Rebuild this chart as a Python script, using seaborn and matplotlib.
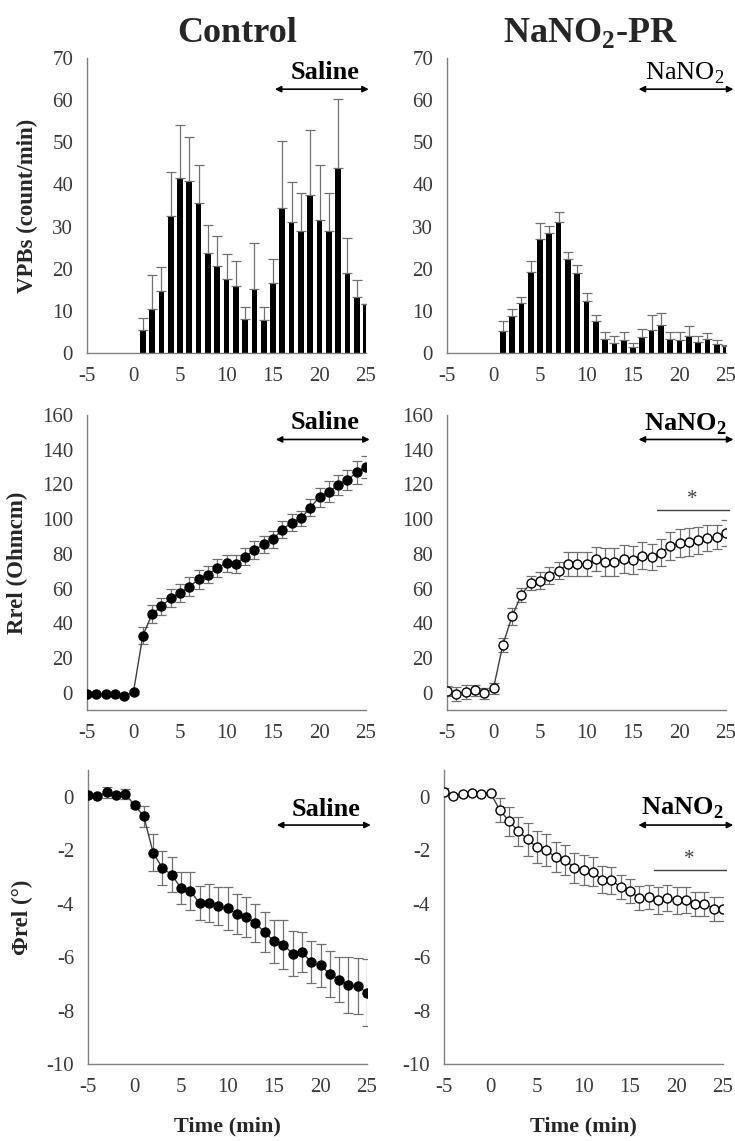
import numpy as np
import matplotlib
matplotlib.use("Agg")
import matplotlib.pyplot as plt
import seaborn as sns

# ----------------------------- datos -----------------------------
t_barras = list(range(1, 26))
t_lineas = list(range(-5, 26))

vpb_control = [5.5, 10.5, 14.8, 32.5, 41.5, 40.8, 35.5, 23.8, 20.7, 17.6, 15.9, 8.0, 15.1,
               7.8, 16.5, 34.5, 31.0, 29.0, 37.5, 31.5, 29.0, 43.8, 19.0, 13.3, 11.6]
vpb_control_err = [2.9, 8.0, 5.7, 10.5, 12.5, 10.5, 9.2, 6.5, 7.1, 5.8, 5.9, 3.0, 10.9,
                   3.2, 5.9, 15.7, 9.6, 9.0, 15.5, 13.1, 9.0, 16.5, 8.3, 4.0, 0.0]
vpb_nano = [5.3, 8.7, 11.9, 19.3, 27.0, 28.4, 31.0, 22.4, 19.1, 12.4, 7.6, 3.3, 2.4,
            3.2, 1.5, 3.9, 5.4, 6.6, 3.4, 3.1, 4.1, 2.7, 3.4, 2.2, 1.6]
vpb_nano_err = [2.3, 1.8, 1.4, 2.5, 3.8, 1.7, 2.5, 1.5, 1.9, 1.8, 1.3, 1.6, 1.7,
                1.7, 0.9, 1.9, 3.6, 2.9, 1.7, 1.8, 2.2, 1.4, 1.3, 0.8, 0.4]

rrel_control = [-1.0, -1.0, -1.0, -1.0, -2.0, 0.5, 32.8, 45.3, 49.7, 54.5, 57.4, 61.0, 65.3,
                68.0, 71.9, 74.6, 74.2, 78.4, 82.3, 85.4, 88.4, 94.0, 97.9, 100.4, 106.6,
                112.7, 115.8, 119.7, 122.5, 127.0, 130.0]
rrel_control_err = [1, 1, 1, 1, 1, 1, 5, 5, 5, 5, 5, 5.5, 5.5, 5, 5, 5, 5, 5, 5, 5, 5,
                    5, 5, 4.5, 5, 5.5, 6, 6, 6, 6.5, 6.5]
rrel_nano = [1.0, -1.0, 0.6, 1.3, -0.4, 2.5, 27.5, 44.0, 56.5, 63.2, 64.5, 67.4, 70.3, 74.0,
             74.0, 74.0, 76.9, 75.1, 75.1, 77.0, 76.5, 79.0, 78.4, 80.7, 84.4, 86.3, 86.9,
             87.7, 89.0, 89.6, 91.9]
rrel_nano_err = [3, 4, 4, 3, 3, 3, 4, 5, 4, 4, 5, 5, 5, 7, 7, 7, 7, 8, 8, 8, 8, 8, 7.5,
                 8, 8, 8, 8, 8, 7.5, 7, 7.5]

phi_control = [0.06, 0.01, 0.16, 0.07, 0.10, -0.31, -0.73, -2.09, -2.67, -2.92, -3.42, -3.53,
               -3.98, -3.97, -4.09, -4.17, -4.39, -4.49, -4.73, -5.07, -5.41, -5.53, -5.87,
               -5.82, -6.18, -6.31, -6.63, -6.84, -7.05, -7.08, -7.34]
phi_control_err = [0.05, 0.05, 0.2, 0.05, 0.2, 0.1, 0.4, 0.7, 0.65, 0.65, 0.6, 0.7, 0.65, 0.7,
                   0.7, 0.8, 0.75, 0.75, 0.7, 0.75, 0.8, 0.9, 0.85, 0.75, 0.8, 0.8, 0.85,
                   0.85, 1.05, 1.05, 1.25]
phi_nano = [0.19, 0.04, 0.10, 0.14, 0.10, 0.14, -0.50, -0.92, -1.29, -1.60, -1.89, -2.01,
            -2.26, -2.36, -2.66, -2.74, -2.80, -3.11, -3.13, -3.38, -3.54, -3.79, -3.76,
            -3.88, -3.79, -3.88, -3.86, -4.00, -4.00, -4.19, -4.19]
phi_nano_err = [0.12, 0.05, 0.05, 0.05, 0.05, 0.05, 0.45, 0.55, 0.55, 0.6, 0.6, 0.6, 0.55,
                0.55, 0.55, 0.55, 0.55, 0.5, 0.5, 0.45, 0.45, 0.45, 0.45, 0.5, 0.5, 0.5,
                0.5, 0.45, 0.45, 0.45, 0.45]

titulos = ['Control', r'NaNO$_\mathbf{2}$-PR']
etiquetas_trat = ['Saline', r'NaNO$_\mathbf{2}$']

# ----------------------------- estilo -----------------------------
sns.set_style('white')
plt.rcParams['font.family'] = ['Liberation Serif', 'DejaVu Serif']
plt.rcParams['mathtext.fontset'] = 'custom'
plt.rcParams['mathtext.rm'] = 'Liberation Serif'
plt.rcParams['mathtext.bf'] = 'Liberation Serif:bold'
plt.rcParams['axes.unicode_minus'] = False

GRIS = '#808080'
TXT = '#3a3a3a'

fig = plt.figure(figsize=(7.35, 11.41), dpi=100)
W = 279 / 735

pos = {
    (0, 0): [87 / 735, 1 - 353 / 1141, W, 295 / 1141],
    (0, 1): [447 / 735, 1 - 353 / 1141, W, 295 / 1141],
    (1, 0): [87 / 735, 1 - 710 / 1141, W, 295 / 1141],
    (1, 1): [447 / 735, 1 - 710 / 1141, W, 295 / 1141],
    (2, 0): [88 / 735, 1 - 1064 / 1141, W, 294 / 1141],
    (2, 1): [444 / 735, 1 - 1064 / 1141, W, 294 / 1141],
}
axes = {k: fig.add_axes(v) for k, v in pos.items()}


def estilo_ejes(ax, ylim, yticks):
    ax.set_xlim(-5, 25)
    ax.set_ylim(*ylim)
    ax.set_xticks([-5, 0, 5, 10, 15, 20, 25])
    ax.set_yticks(yticks)
    for s in ['top', 'right']:
        ax.spines[s].set_visible(False)
    for s in ['left', 'bottom']:
        ax.spines[s].set_color(GRIS)
        ax.spines[s].set_linewidth(1.0)
    ax.tick_params(axis='both', direction='out', length=4, width=1, color=GRIS,
                   labelsize=15, labelcolor=TXT, pad=6)
    ax.set_xlabel('')
    ax.set_ylabel('')


def flecha(ax, y, x0, x1, texto, ytexto, negrita=True):
    ax.annotate('', xy=(x0, y), xytext=(x1, y), xycoords='data',
                arrowprops=dict(arrowstyle='<|-|>', color='black', lw=1.2,
                                mutation_scale=9, shrinkA=0, shrinkB=0),
                annotation_clip=False)
    ax.text(20.6, ytexto, texto, ha='center', va='center', fontsize=19,
            fontweight='bold' if negrita else 'normal', color='black', clip_on=False)


# ----------------------------- fila 1: barras -----------------------------
for j, (vals, errs) in enumerate([(vpb_control, vpb_control_err), (vpb_nano, vpb_nano_err)]):
    ax = axes[(0, j)]
    sns.barplot(x=t_barras, y=vals, native_scale=True, color='black', width=0.62,
                saturation=1, errorbar=None, linewidth=0, ax=ax)
    ax.errorbar(t_barras, vals, yerr=[np.zeros(len(errs)), errs], fmt='none',
                ecolor='#707070', elinewidth=0.9, capsize=3.5, capthick=0.9)
    estilo_ejes(ax, (0, 70), range(0, 71, 10))
axes[(0, 0)].set_ylabel('VPBs (count/min)', fontsize=16.5, fontweight='bold')
flecha(axes[(0, 0)], 62.6, 15.2, 25.3, etiquetas_trat[0], 66.6)
flecha(axes[(0, 1)], 62.6, 15.6, 25.8, r'NaNO$_2$', 66.3, negrita=False)

# ----------------------------- filas 2 y 3: lineas -----------------------------
series = [
    (1, rrel_control, rrel_control_err, rrel_nano, rrel_nano_err, (-10, 160), range(0, 161, 20)),
    (2, phi_control, phi_control_err, phi_nano, phi_nano_err, (-10, 1), range(-10, 1, 2)),
]
for fila, vc, ec, vn, en, ylim, yticks in series:
    for j, (vals, errs, relleno) in enumerate([(vc, ec, 'black'), (vn, en, 'white')]):
        ax = axes[(fila, j)]
        ax.errorbar(t_lineas, vals, yerr=errs, fmt='none', ecolor='#707070',
                    elinewidth=0.9, capsize=3.5, capthick=0.9, zorder=2)
        sns.lineplot(x=t_lineas, y=vals, color='#404040', linewidth=1.0, marker='o',
                     markersize=6.5, markerfacecolor=relleno, markeredgecolor='black',
                     markeredgewidth=1.0, ax=ax, zorder=3)
        estilo_ejes(ax, ylim, yticks)

axes[(1, 0)].set_ylabel('Rrel (Ohmcm)', fontsize=16.5, fontweight='bold')
axes[(2, 0)].set_ylabel('Φrel (°)', fontsize=16.5, fontweight='bold')
flecha(axes[(1, 0)], 145.9, 15.3, 25.4, etiquetas_trat[0], 155.5)
flecha(axes[(1, 1)], 145.9, 15.6, 25.8, etiquetas_trat[1], 154.5)
flecha(axes[(2, 0)], -1.06, 15.3, 25.4, etiquetas_trat[0], -0.46)
flecha(axes[(2, 1)], -1.06, 15.9, 26.1, etiquetas_trat[1], -0.42)

# lineas de significancia
for ax, y, ys in [(axes[(1, 1)], 105.4, 111.5), (axes[(2, 1)], -2.76, -2.36)]:
    ax.plot([17.6, 25.3], [y, y], color='#404040', lw=1.0, clip_on=False)
    ax.text(21.4, ys, '*', ha='center', va='center', fontsize=15, color='#404040')

for j in range(2):
    axes[(2, j)].set_xlabel('Time (min)', fontsize=16, fontweight='bold')
    axes[(2, j)].xaxis.set_label_coords(0.5, -0.18)

# posiciones de etiquetas y (borde derecho del texto rotado)
axes[(0, 0)].yaxis.set_label_coords(-0.176, 0.5)
axes[(1, 0)].yaxis.set_label_coords(-0.213, 0.5)
axes[(2, 0)].yaxis.set_label_coords(-0.197, 0.5)

# titulos
fig.text(237 / 735, 1 - 33 / 1141, titulos[0], ha='center', va='center',
         fontsize=26, fontweight='bold')
fig.text(590 / 735, 1 - 33 / 1141, titulos[1], ha='center', va='center',
         fontsize=26, fontweight='bold')

fig.savefig('out.png', dpi=100, facecolor='white')
